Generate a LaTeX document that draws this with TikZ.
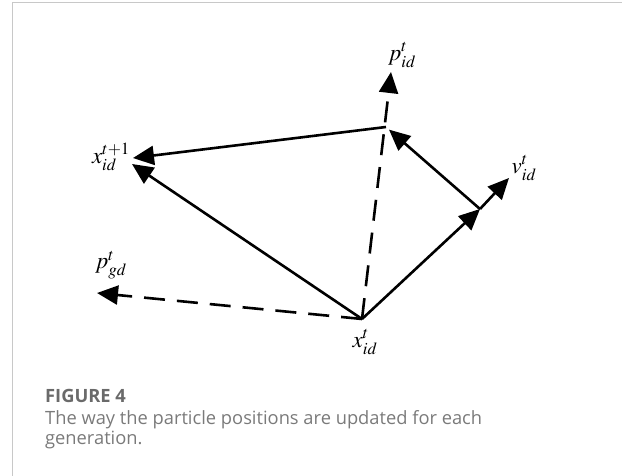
\documentclass[tikz,border=0pt]{standalone}
\usepackage{mathptmx}
\usepackage[no-math]{fontspec}
\newfontfamily\capfont{Open Sans}
\usetikzlibrary{arrows.meta}
\definecolor{framegray}{HTML}{C8C8C8}
\definecolor{capgray}{HTML}{7A7A7A}
\definecolor{figgray}{HTML}{6A6A6A}

\begin{document}
\begin{tikzpicture}[x=1pt, y=-1pt,
    lbl/.style={inner sep=0pt, font=\fontsize{23}{27}\selectfont},
    vec/.style={-{Triangle[length=21pt,width=19pt]}, line width=2.6pt},
    dvec/.style={vec, dash pattern=on 21pt off 12pt},
    captxt/.style={inner sep=0pt, anchor=base west, text=capgray, font=\capfont\fontsize{18.3}{21}\selectfont}
]
    \useasboundingbox (0,0) rectangle (622,476);
    % frame
    \draw[framegray, line width=1.3pt] (12.3,476) -- (12.3,2.7) -- (622,2.7);

    % points
    \coordinate (o) at (362,319);
    \coordinate (c) at (386,127);
    \coordinate (v) at (480,209);
    \coordinate (ptip) at (391,72);
    \coordinate (vtip) at (509,178);
    \coordinate (gtip) at (97,293);
    \coordinate (xtop) at (133,158);
    \coordinate (xlow) at (132,164);

    % labels
    \node[lbl] (pid) at (402,55) {$p_{id}^{t}$};
    \node[lbl] (vid) at (524,168) {$v_{id}^{t}$};
    \node[lbl] (xnew) at (111,157) {$x_{id}^{t+1}$};
    \node[lbl] (pgd) at (111,265) {$p_{gd}^{t}$};
    \node[lbl] (xid) at (365,342) {$x_{id}^{t}$};

    % vectors
    \draw[dvec] (o) -- (ptip);
    \draw[dvec] (o) -- (gtip);
    \draw[vec] (o) -- (v);
    \draw[vec] (v) -- (vtip);
    \draw[vec, shorten >=4pt] (v) -- (c);
    \draw[vec] (c) -- (xtop);
    \draw[vec] (o) -- (xlow);

    % caption
    \node[captxt, font=\capfont\bfseries\fontsize{18.3}{21}\selectfont, text=figgray] (fig) at (45,402.5) {FIGURE 4};
    \node[captxt] (txt1) at (45,424) {The way the particle positions are updated for each};
    \node[captxt] (txt2) at (45,444) {generation.};
\end{tikzpicture}
\end{document}
